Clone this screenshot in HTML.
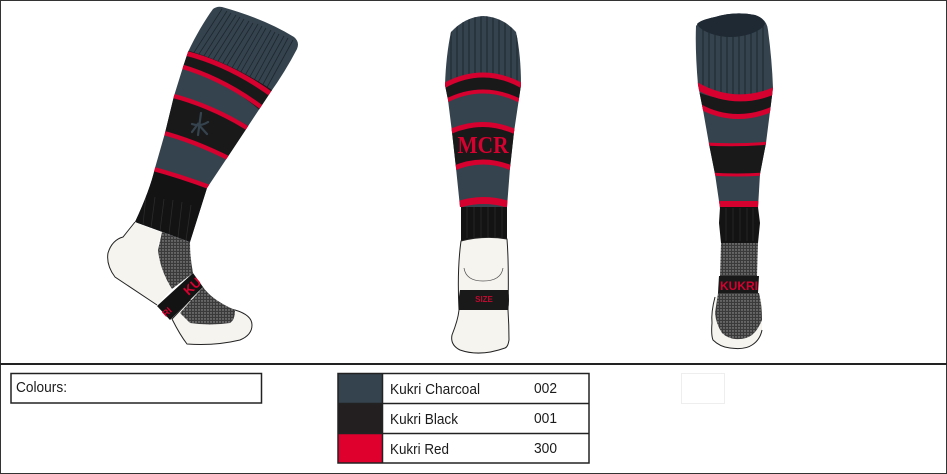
<!DOCTYPE html>
<html><head><meta charset="utf-8"><style>
html,body{margin:0;padding:0;background:#fff}
svg{display:block}
text{font-family:"Liberation Sans",sans-serif}
</style></head><body>
<svg width="947" height="474" viewBox="0 0 947 474" xmlns="http://www.w3.org/2000/svg">
<defs>
<pattern id="m" width="3" height="3" patternUnits="userSpaceOnUse"><rect width="3" height="3" fill="#3a3a3b"/><circle cx="1" cy="1" r=".7" fill="#a0a0a0"/></pattern>
<clipPath id="c1"><path d="M188,52 C196,35 205,20 213,9 Q217,6 222,7 Q265,19 294,37 Q300,42 297,49 Q285,72 270,93 L227,158 L207,188 L190,242 L135,222 Q150,190 155,168 L165,133 L174,96 L183,67Z"/></clipPath>
<clipPath id="c2"><path d="M451,32 Q465,17 483,16 Q503,17 516,32 Q521,55 521,85 L514,132 L510,168 L507,207 L460,207 L456,168 L452,132 L448,100 L445,85 Q446,55 451,32Z"/></clipPath>
<clipPath id="c3"><path d="M696,26 Q700,20 715,17 Q735,11 755,15 Q767,19 768,30 Q772,60 773,88 L766,143 L760,174 L758,208 L720,208 L715,174 L709,144 L703,110 L698,85 Q695,50 696,26Z"/></clipPath>
</defs>
<rect width="947" height="474" fill="#fff"/>
<rect x=".5" y=".5" width="946" height="473" fill="none" stroke="#333" stroke-width="1"/>
<rect x="0" y="0" width="947" height="1" fill="#333"/>
<rect x="0" y="363" width="947" height="2" fill="#222"/>

<!-- SOCK 1 -->
<g clip-path="url(#c1)">
<rect x="130" y="0" width="175" height="245" fill="#35434e"/>
<path d="M222,9L193,54M227,11L197,57M231,13L202,59M236,15L206,61M240,17L211,63M244,19L215,66M249,21L220,68M253,23L224,70M258,24L229,73M262,26L234,75M266,28L238,77M271,30L243,79M275,32L247,82M279,34L252,84M284,36L256,86M288,38L261,88M293,40L265,91" stroke="#1d2730" stroke-width=".8" fill="none"/>
<path d="M186,50 Q232,63 275,92 L262,112 Q225,80 180,66Z" fill="#19191a"/>
<path d="M170,95 Q213,105 252,128 L232,162 Q195,140 160,132Z" fill="#19191a"/>
<path d="M150,168 Q180,175 212,186 L195,245 L130,225Z" fill="#131314"/>
<path d="M146,195L143,225M155,197L151,228M164,199L160,231M173,200L169,234M182,202L178,237M191,205L186,240" stroke="#2b2b2b" stroke-width=".8" fill="none"/>
<g fill="none" stroke="#d6012f">
<path d="M185,53 Q232,65 275,97" stroke-width="5"/>
<path d="M180,66 Q225,79 265,110" stroke-width="4.5"/>
<path d="M170,95 Q213,106 252,131" stroke-width="4.5"/>
<path d="M160,132 Q195,141 232,160" stroke-width="4.5"/>
<path d="M150,168 Q180,176 212,188" stroke-width="4.5"/>
</g>
</g>
<g stroke="#35434e" stroke-width="2.2" fill="none" stroke-linecap="round"><path d="M201,113L198,135M192,124Q200,127 208,122M192,132L198,124L207,134"/></g>
<path d="M135,222 Q150,229 162,232 Q157,245 158,250 Q161,268 173,288 L157,305 Q135,290 115,277 Q106,265 108,253 Q112,240 123,237Z" fill="#f6f4ef"/>
<path d="M135,222 L123,237 Q112,240 108,253 Q106,265 115,277 L157,305" fill="none" stroke="#222" stroke-width="1"/>
<path d="M172,319 L190,300 L235,310 Q252,315 252,325 Q252,335 240,340 Q215,346 187,344 Q180,335 172,319Z" fill="#f6f4ef" stroke="#222" stroke-width="1"/>
<path d="M180,313 L203,287 Q212,300 235,310 Q235,320 230,323 Q210,326 190,323Z" fill="url(#m)"/>
<path d="M162,232 L190,242 Q190,258 193,273 L172,289 Q160,270 158,250Z" fill="url(#m)"/>
<path d="M157,306 L193,273 L203,287 L170,320Z" fill="#131314"/>
<text transform="translate(192,286) rotate(-43)" y="5" font-size="13" font-weight="700" fill="#d6012f" text-anchor="middle">KU</text>
<text transform="translate(167,312) rotate(-43)" y="3" font-size="9" font-weight="700" fill="#d6012f" text-anchor="middle">RI</text>

<!-- SOCK 2 -->
<g clip-path="url(#c2)">
<rect x="440" y="10" width="90" height="200" fill="#35434e"/>
<path d="M451,20V90M457,20V88M463,20V86M469,15V84M475,15V82M481,15V82M487,15V82M493,15V82M499,15V84M505,20V86M511,20V88M517,20V90" stroke="#1a242c" stroke-width=".9" fill="none"/>
<path d="M440,86 Q483,66 526,86 L524,100 Q483,82 442,100Z" fill="#19191a"/>
<path d="M445,132 Q483,118 520,132 L516,168 Q483,156 450,168Z" fill="#19191a"/>
<g fill="none" stroke="#d6012f">
<path d="M440,88 Q483,62 526,88" stroke-width="5"/>
<path d="M442,103 Q483,80 524,103" stroke-width="4"/>
<path d="M445,134 Q483,115 520,134" stroke-width="5"/>
<path d="M450,170 Q483,154 516,170" stroke-width="5"/>
<path d="M454,206 Q484,195 513,206" stroke-width="7"/>
</g>
</g>
<text x="483" y="153" font-size="24" font-weight="700" fill="#d6012f" text-anchor="middle" textLength="51" lengthAdjust="spacingAndGlyphs" style="font-family:'Liberation Serif',serif">MCR</text>
<path d="M461,207 L507,207 L507,239 Q484,236 461,241Z" fill="#131314"/>
<path d="M467,207V238M474,207V238M481,207V238M488,207V238M495,207V238M502,207V238" stroke="#2a2a2a" stroke-width=".8"/>
<path d="M461,241 Q484,235 507,239 Q509,265 508,310 Q509,325 509,340 Q508,347 505,348 Q480,357 460,350 Q450,345 452,335 Q458,320 459,310 Q457,270 461,241Z" fill="#f6f4ef" stroke="#222" stroke-width="1"/>
<path d="M464,268 Q466,281 483,281 Q501,281 503,268" fill="none" stroke="#555" stroke-width=".8"/>
<path d="M460,290 L508,290 Q510,300 508,310 L459,310 Q458,300 460,290Z" fill="#19191a"/>
<text x="484" y="302" font-size="8" font-weight="700" fill="#c00a2e" text-anchor="middle">SIZE</text>

<!-- SOCK 3 -->
<g clip-path="url(#c3)">
<rect x="690" y="10" width="90" height="200" fill="#35434e"/>
<path d="M703,20V92M709,20V95M715,20V97M721,20V99M727,20V100M733,20V101M739,20V101M745,20V101M751,20V99M757,20V97M763,20V95" stroke="#1a242c" stroke-width=".9" fill="none"/>
<path d="M695,91 Q735,108 776,92 L775,110 Q735,126 700,108Z" fill="#19191a"/>
<path d="M705,144 L770,143 L765,174 L710,174Z" fill="#19191a"/>
<g fill="none" stroke="#d6012f">
<path d="M695,85 Q735,108 776,90" stroke-width="7"/>
<path d="M699,106 Q735,126 775,108" stroke-width="5"/>
<path d="M705,144 Q737,146 770,143" stroke-width="3"/>
<path d="M710,174 Q737,176 765,174" stroke-width="3"/>
<path d="M715,204 H763" stroke-width="6"/>
</g>
<path d="M690,207H780V212H690Z" fill="#131314"/>
</g>
<path d="M697,24 Q700,20 715,17 Q735,11 755,15 Q764,18 765,24 Q762,30 750,34 Q730,40 712,34 Q700,30 697,24Z" fill="#1e2933"/>
<path d="M720,207 L758,207 L760,223 L758,243 L721,243 L719,223Z" fill="#131314"/>
<path d="M726,208V241M733,208V241M740,208V241M747,208V241M753,208V241" stroke="#2a2a2a" stroke-width=".8"/>
<path d="M715,297 Q711,312 712,323 Q711,335 713,340 Q720,347 730,348 Q745,350 752,345 Q760,340 762,330 L762,303 L759,297Z" fill="#f6f4ef"/>
<path d="M715,297 Q711,312 712,323 Q711,335 713,340 Q720,347 730,348 Q745,350 752,345 Q760,340 762,330" fill="none" stroke="#222" stroke-width="1"/>
<path d="M721,243 H758 L757,276 H720Z" fill="url(#m)"/>
<path d="M718,293 H759 Q762,305 762,320 Q758,330 752,335 Q745,340 735,339 Q727,338 722,333 Q716,324 715,313Z" fill="url(#m)"/>
<path d="M719,276 H759 L758,293 H718Z" fill="#19191a"/>
<text x="739" y="290" font-size="12" font-weight="700" fill="#d6012f" text-anchor="middle" textLength="38" lengthAdjust="spacingAndGlyphs">KUKRI</text>

<!-- Panels -->
<rect x="11" y="373.5" width="250.5" height="29.5" fill="#fff" stroke="#222" stroke-width="1.5"/>
<text x="16" y="392" font-size="14.5" fill="#1a1a1a" textLength="51" lengthAdjust="spacingAndGlyphs">Colours:</text>

<rect x="338" y="374" width="44" height="29.5" fill="#35434e"/>
<rect x="338" y="403.5" width="44" height="30" fill="#231f20"/>
<rect x="338" y="433.5" width="44" height="29.5" fill="#e0002d"/>
<rect x="338" y="373.5" width="251" height="89.5" fill="none" stroke="#222" stroke-width="1.5"/>
<path d="M382.5,373.5V463M338,403.5H589M338,433.5H589" stroke="#222" stroke-width="1.5" fill="none"/>
<g font-size="14.5" fill="#1a1a1a">
<text x="390" y="394" textLength="90" lengthAdjust="spacingAndGlyphs">Kukri Charcoal</text>
<text x="534" y="393" textLength="23" lengthAdjust="spacingAndGlyphs">002</text>
<text x="390" y="424" textLength="68" lengthAdjust="spacingAndGlyphs">Kukri Black</text>
<text x="534" y="423" textLength="23" lengthAdjust="spacingAndGlyphs">001</text>
<text x="390" y="454" textLength="59" lengthAdjust="spacingAndGlyphs">Kukri Red</text>
<text x="534" y="453" textLength="23" lengthAdjust="spacingAndGlyphs">300</text>
</g>
<rect x="681.5" y="373.5" width="43" height="30" fill="#fff" stroke="#eee" stroke-width="1"/>
</svg>
</body></html>
